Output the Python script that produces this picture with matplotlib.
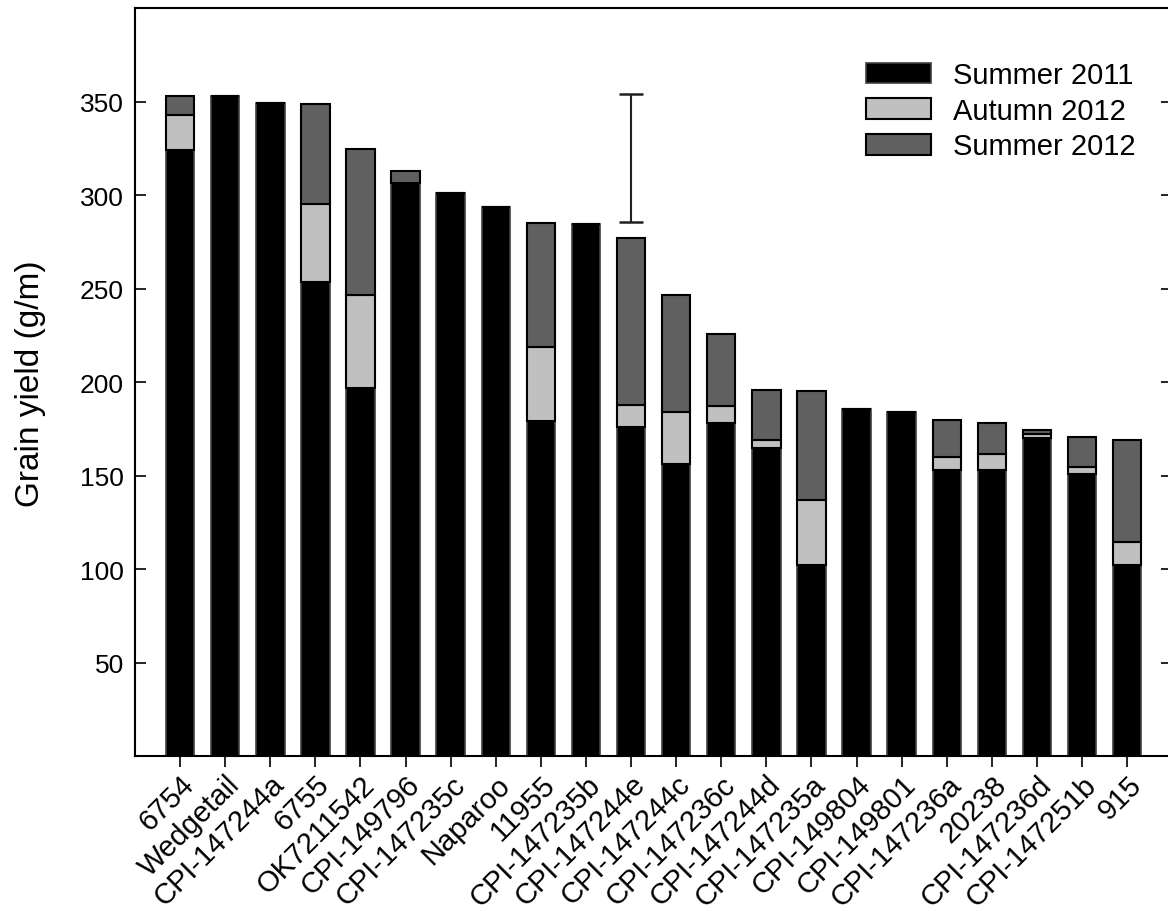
import matplotlib.pyplot as plt
import numpy as np

plt.rcParams['font.family'] = ['Liberation Sans', 'DejaVu Sans']

# Genotypen, nach Gesamtertrag sortiert
genotypes = ['6754', 'Wedgetail', 'CPI-147244a', '6755', 'OK7211542', 'CPI-149796',
             'CPI-147235c', 'Naparoo', '11955', 'CPI-147235b', 'CPI-147244e',
             'CPI-147244c', 'CPI-147236c', 'CPI-147244d', 'CPI-147235a', 'CPI-149804',
             'CPI-149801', 'CPI-147236a', '20238', 'CPI-147236d', 'CPI-147251b', '915']

# Kumulierter Kornertrag (g/m) am Ende jeder Ernte
summer_2011 = [324.5, 353, 349.5, 253.5, 197, 306.5, 301.5, 294, 179, 284.5, 176,
               156, 178, 165, 102, 185.5, 184, 153, 153, 170, 151, 102]
autumn_2012 = [343, 353, 349.5, 295.5, 246.5, 306.5, 301.5, 294, 219, 284.5, 188,
               184, 187.5, 169, 137, 185.5, 184, 160, 161.5, 172.5, 154.5, 114.5]
summer_2012 = [353, 353, 349.5, 349, 325, 313, 301.5, 294, 285, 284.5, 277,
               246.5, 226, 196, 195.5, 185.5, 184, 180, 178, 174.5, 170.5, 169]

# LSD-Balken
lsd_x = 10
lsd_mid = 320
lsd_half = 34.5

x = np.arange(len(genotypes))
s11 = np.array(summer_2011)
a12 = np.array(autumn_2012) - s11
s12 = np.array(summer_2012) - np.array(autumn_2012)

fig = plt.figure(figsize=(11.68, 9.12), dpi=100)
ax = fig.add_axes([0.1156, 0.170, 0.888, 0.8196])

w = 0.63
ax.bar(x, s11, w, color='black', edgecolor='#404040', linewidth=1.2, label='Summer 2011')
ax.bar(x, a12, w, bottom=s11, color='#c0c0c0', edgecolor='black', linewidth=1.5,
       label='Autumn 2012')
ax.bar(x, s12, w, bottom=np.array(autumn_2012), color='#606060', edgecolor='black',
       linewidth=1.5, label='Summer 2012')

ax.errorbar([lsd_x], [lsd_mid], yerr=[lsd_half], fmt='none', ecolor='#202020',
            elinewidth=1.5, capsize=8.5, capthick=1.8)

ax.set_xlim(-1, 22)
ax.set_ylim(0, 400)
ax.set_yticks(np.arange(50, 400, 50))
ax.set_xticks(x)
ax.set_xticklabels(genotypes, rotation=45, ha='right', va='top', rotation_mode='anchor')
ax.tick_params(axis='y', direction='in', length=8, width=1.2, labelsize=19,
               right=True, pad=8)
ax.tick_params(axis='x', direction='out', length=8, width=1.2, labelsize=21, pad=2)
for sp in ax.spines.values():
    sp.set_linewidth(1.5)

ax.set_ylabel('Grain yield (g/m)', fontsize=24)
ax.yaxis.set_label_coords(-0.086, 0.5)

ax.legend(loc='upper right', bbox_to_anchor=(0.976, 0.945), frameon=False, fontsize=21,
          handlelength=2.25, handleheight=0.72, labelspacing=0.26, handletextpad=0.75,
          borderaxespad=0)

fig.savefig('out.png', dpi=100)
